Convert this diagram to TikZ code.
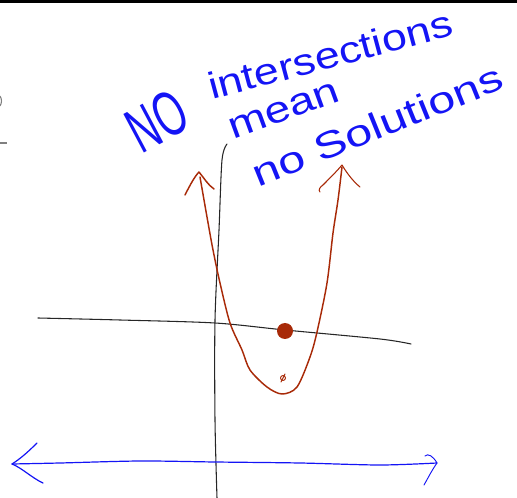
\documentclass[tikz,border=0pt]{standalone}
\usepackage{fontspec}
\setmainfont{Liberation Sans}
\begin{document}
\begin{tikzpicture}[x=0.75pt,y=-0.75pt,
  ink/.style={line cap=round,line join=round},
  axisline/.style={ink,draw=black!85,line width=0.8pt},
  redline/.style={ink,draw=redink,line width=1.1pt},
  blueline/.style={ink,draw=blueink,line width=0.9pt},
  handtext/.style={text=blueink,inner sep=0pt,font=\fontsize{28}{30}\selectfont}]
\definecolor{redink}{RGB}{168,42,8}
\definecolor{blueink}{RGB}{20,20,245}
\useasboundingbox (0,0) rectangle (517,498);
% top bar
\fill[black] (0,0) rectangle (517,3.5);
% left margin marks
\draw[gray,line width=0.8pt] (0,96) .. controls (2,99) and (2,103) .. (0,106);
\draw[gray,line width=0.8pt] (0,143) -- (7,143);
% vertical axis
\draw[axisline] plot[smooth] coordinates {(227,144) (222,160) (219,230) (215,320) (215,420) (217,498)};
% horizontal line
\draw[axisline] plot[smooth] coordinates {(38,318) (120,320) (215,323) (285,330) (380,339) (411,344)};
% parabola
\draw[redline] plot[smooth] coordinates {(200,177) (207,217) (213,250) (220,283) (230,323) (242,350) (250,370) (267,387) (282,394) (297,387) (310,357) (317,332) (327,283) (333,233) (338,200) (342,167)};
\draw[redline] (185,195) .. controls (190,185) and (195,176) .. (199,172) .. controls (204,178) and (208,185) .. (214,189);
\draw[redline,line width=0.8pt] (320,192) .. controls (318,190) and (320,187) .. (323,185) .. controls (330,178) and (337,171) .. (342,165) .. controls (348,175) and (354,182) .. (360,187);
% dot and scribble
\fill[redink] (285,331) circle (8);
\draw[redline,line width=0.7pt] (283,378) circle (2.5);
\draw[redline,line width=0.7pt] (281,382) -- (285,374);
% number line
\draw[blueline] plot[smooth] coordinates {(12,464) (60,463) (140,461) (215,462) (300,463) (380,465) (437,463)};
\draw[blueline] (37,443) .. controls (28,452) and (20,459) .. (12,464) .. controls (22,468) and (32,478) .. (43,483);
\draw[blueline,line width=0.7pt] (425,456) .. controls (428,453) and (433,456) .. (437,463) .. controls (432,470) and (428,478) .. (424,485);
% text
\node[handtext,rotate=28] (no) at (157,121) {\scalebox{1.05}[1.7]{NO}};
\node[handtext,rotate=15,anchor=base west] (inter) at (212,100) {\scalebox{1.2}[1]{intersections}};
\node[handtext,rotate=20,anchor=base west] (mean) at (233,140) {\scalebox{1.24}[1]{mean}};
\node[handtext,rotate=22,anchor=base west] (nosol) at (258,188) {\scalebox{1.3}[1]{no Solutions}};
\end{tikzpicture}
\end{document}
